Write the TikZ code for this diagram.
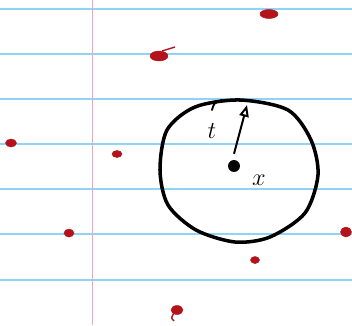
\documentclass[tikz,border=0pt]{standalone}
\usepackage{tikz}
\usetikzlibrary{arrows.meta,positioning,calc}
\definecolor{Rule}{HTML}{8FD3F5}
\definecolor{Margin}{HTML}{F4A3B8}
\definecolor{Ink}{HTML}{B3141C}

\begin{document}
\begin{tikzpicture}[x=0.3mm,y=-0.3mm,
  rule/.style={draw=Rule,line width=0.9pt},
  blob/.style={fill=Ink,draw=Ink,line width=0.4pt},
  pen/.style={line width=3pt,black,line cap=round,line join=round},
  arrow/.style={-{Triangle[open,length=10pt,width=8pt]},line width=1.7pt},
  lbl/.style={font=\huge,inner sep=0pt}]
  \useasboundingbox (0,0) rectangle (352,325);
  \fill[white] (0,0) rectangle (352,325);

  % ruled paper
  \foreach \y in {9,54,99,144,189,234,280}
    \draw[rule] (0,\y) -- (352,\y);
  \draw[Margin,line width=1pt] (92.5,0) -- (92.5,325);

  % red points
  \fill[blob] (269,14) ellipse (9 and 4.5);
  \fill[blob] (159,56) ellipse (9 and 5);
  \draw[Ink,line width=1.2pt] (162,51) -- (175,47);
  \fill[blob] (11,143) ellipse (5.5 and 4);
  \fill[blob] (117,154) ellipse (5 and 3.5);
  \fill[blob] (69,233) ellipse (5 and 4);
  \fill[blob] (346,232) ellipse (5.5 and 5);
  \fill[blob] (255,260) ellipse (4.5 and 3.5);
  \fill[blob] (177,310) ellipse (6 and 4.5);
  \draw[Ink,line width=1.2pt] (174,313) .. controls (171,318) .. (174,321);

  % ball around x with radius t
  \draw[pen] plot[smooth cycle] coordinates
    {(240,100) (288,110) (311,140) (318,175) (305,213) (270,237)
     (235,242) (196,230) (168,205) (160,170) (167,130) (195,107)};
  \draw[pen,line width=1.6pt] (212,110) .. controls (214,103) .. (222,100);

  \node[circle,fill=black,inner sep=3.6pt] (x) at (234,166) {};
  \coordinate (rim) at (247,105);
  \draw[arrow] (x.north) ++(0,-6) coordinate (s) (s) -- (rim);
  \node[lbl] (t) at (212,131) {$t$};
  \node[lbl] (xl) at (259,180) {$x$};
\end{tikzpicture}
\end{document}
